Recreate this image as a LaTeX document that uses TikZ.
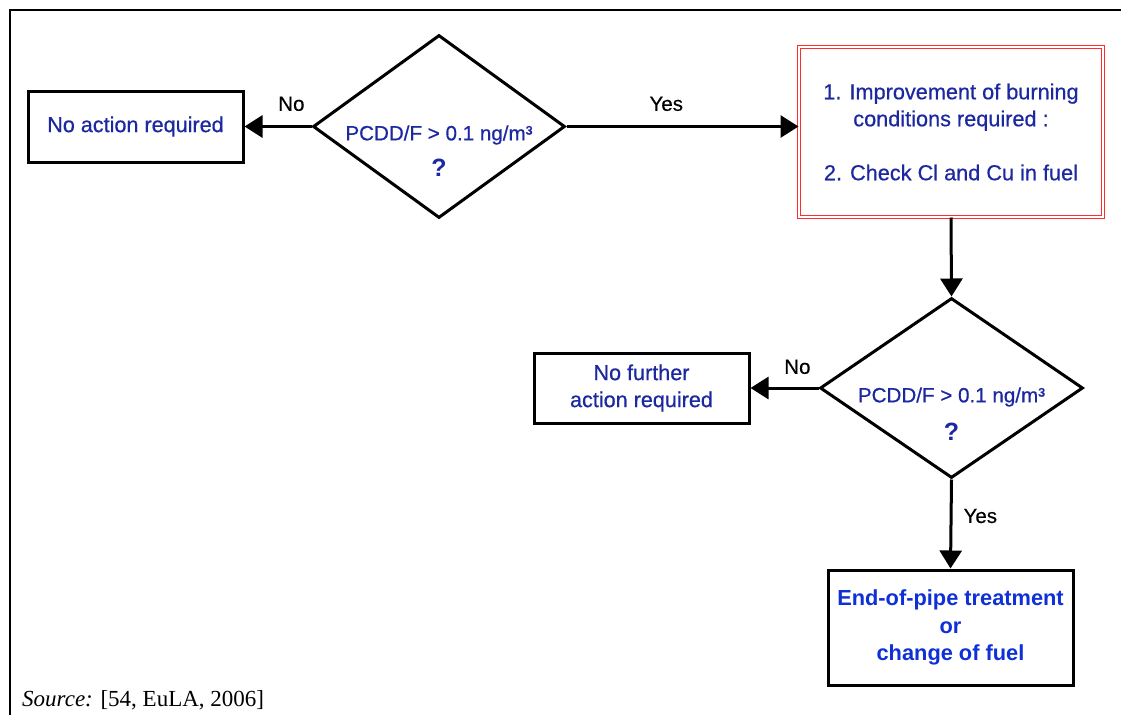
\documentclass[tikz,border=0pt]{standalone}
\usepackage{fontspec}
\setmainfont{Liberation Serif}
\setsansfont{Liberation Sans}
\newfontfamily\heavysans[FakeBold=0.6]{Liberation Sans}
\newfontfamily\lblsans[FakeBold=0.3]{Liberation Sans}
\usepackage{tikz}
\usetikzlibrary{arrows.meta, positioning, shapes.geometric}
\definecolor{txtblue}{RGB}{28,40,160}
\definecolor{endblue}{RGB}{15,48,215}
\definecolor{boxred}{RGB}{255,45,45}

\begin{document}
\begin{tikzpicture}[x=1pt,y=-1pt,
    actbox/.style={draw,line width=3pt,fill=white,text=txtblue,align=center,
      inner sep=0pt,font=\heavysans\fontsize{21.6}{27}\selectfont},
    redbox/.style={draw=boxred,line width=1pt,double=white,double distance=1.6pt,
      text=txtblue,align=center,inner sep=0pt,
      font=\heavysans\fontsize{21.7}{27}\selectfont},
    endbox/.style={actbox,text=endblue,font=\sffamily\bfseries\fontsize{21.8}{27.5}\selectfont},
    decision/.style={draw,diamond,line width=3pt,inner sep=0pt},
    qtext/.style={text=txtblue,font=\heavysans\fontsize{20.6}{22}\selectfont,inner sep=0pt},
    qmark/.style={text=txtblue,font=\sffamily\bfseries\fontsize{25}{25}\selectfont,inner sep=0pt},
    lbl/.style={font=\lblsans\fontsize{20.5}{22}\selectfont,inner sep=0pt},
    arrow/.style={-{Triangle[length=18pt,width=22pt]},line width=3pt},
    src/.style={font=\rmfamily\fontsize{23}{26}\selectfont,inner sep=0pt}
  ]
  \useasboundingbox (0,0) rectangle (1121,715);

  % frame of the table cell
  \draw[line width=2.5pt] (10,715) -- (10,10) -- (1121,10);

  % first check
  \node[decision,minimum width=252pt,minimum height=183pt] (q1) at (439,126.5) {};
  \node[qtext] (q1txt) at (439,135) {PCDD/F > 0.1 ng/m³};
  \node[qmark] (q1mark) at (439,168) {?};
  \node[actbox,minimum width=215pt,minimum height=71pt] (noact) at (135.5,126.5) {No action required};
  \node[redbox,minimum width=304pt,minimum height=170pt] (improve) at (951,132)
    {1. Improvement of burning\\conditions required :\\[27pt]2. Check Cl and Cu in fuel};

  % second check
  \node[decision,minimum width=263pt,minimum height=180pt] (q2) at (951.5,388) {};
  \node[qtext] (q2txt) at (951.5,397) {PCDD/F > 0.1 ng/m³};
  \node[qmark] (q2mark) at (951.5,432) {?};
  \node[actbox,minimum width=215pt,minimum height=70pt] (nofurther) at (641.5,388)
    {No further\\action required};
  \node[endbox,minimum width=245pt,minimum height=115pt] (endpipe) at (950.5,627.5)
    {End-of-pipe treatment\\or\\change of fuel};

  % flow
  \draw[arrow] (q1.west) -- node[lbl,pos=0.3,above=14pt] (no1) {No} (noact.east);
  \draw[arrow] (q1.east) -- node[lbl,pos=0.43,above=14pt] (yes1) {Yes} (q1.east -| improve.west);
  \draw[arrow] (improve.south) -- (q2.north);
  \draw[arrow] (q2.west) -- node[lbl,pos=0.31,above=12.5pt] (no2) {No} (nofurther.east);
  \draw[arrow] (q2.south) -- node[lbl,pos=0.41,right=11pt] (yes2) {Yes} (endpipe.north);

  % source line
  \node[src,anchor=base west] (source) at (22,706) {\textit{Source:} [54, EuLA, 2006]};
\end{tikzpicture}
\end{document}
